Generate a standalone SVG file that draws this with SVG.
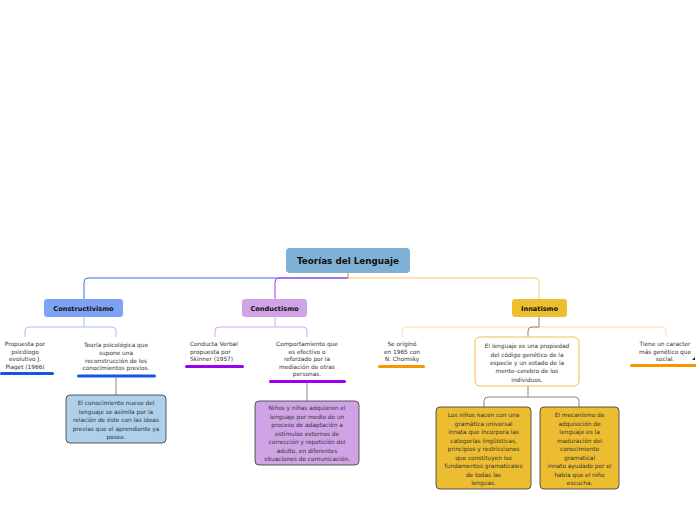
<svg xmlns="http://www.w3.org/2000/svg" width="696" height="520" viewBox="0 0 696 520">
<style>
text{font-family:"DejaVu Sans",Verdana,sans-serif;text-anchor:middle;fill:#333}
.t{font-size:5.8px}
.m{font-size:6.6px;font-weight:bold;fill:#111}
.r{font-size:8.8px;font-weight:bold;fill:#111}
.c{fill:none;stroke-width:1}
.box{stroke:#333;stroke-width:0.8}
</style>
<rect width="696" height="520" fill="#fff"/>
<g id="connectors">
<path class="c" d="M348,278 H88 Q84,278 84,282 V299" stroke="#3d6ff0"/>
<path class="c" d="M348,278 H279 Q275,278 275,282 V299" stroke="#9b3cf0"/>
<path class="c" d="M348,278 H535 Q539,278 539,282 V299" stroke="#fdc46a"/>
<path class="c" d="M348,273 V278" stroke="#f08a00"/>
<path class="c" d="M84,317 V327 M29,327 H112 Q116,327 116,331 V337 M29,327 Q25,327 25,331 V337" stroke="#a6bdf5"/>
<path class="c" d="M275,317 V327 M219,327 H303 Q307,327 307,331 V337 M219,327 Q215,327 215,331 V337" stroke="#d8a5f5"/>
<path class="c" d="M406,327 H662 Q666,327 666,331 V337 M406,327 Q402,327 402,331 V337" stroke="#fddba5"/>
<path class="c" d="M539,317 V327 H532 Q528,327 528,331 V337" stroke="#9a8660"/>
<path class="c" d="M116,378 V395" stroke="#888"/>
<path class="c" d="M307,383 V401" stroke="#888"/>
<path class="c" d="M528,386 V397 M488,397 H575 Q579,397 579,401 V407 M488,397 Q484,397 484,401 V407" stroke="#888"/>
</g>
<g id="root">
<rect x="286" y="248" width="124" height="25" rx="4" fill="#7fb0d5"/>
<text class="r" x="348" y="264">Teorías del Lenguaje</text>
</g>
<g id="constructivismo">
<rect x="44" y="299" width="79" height="18" rx="3" fill="#7ea3f5"/>
<text class="m" x="83.5" y="310.5">Constructivismo</text>
</g>
<g id="conductismo">
<rect x="242" y="299" width="65" height="18" rx="3" fill="#cfa3e6"/>
<text class="m" x="274.5" y="310.5">Conductismo</text>
</g>
<g id="innatismo">
<rect x="512" y="299" width="55" height="18" rx="3" fill="#ecbf30"/>
<text class="m" x="539.5" y="310.5">Innatismo</text>
</g>
<g id="piaget">
<text class="t" x="25" y="346">Propuesta por</text>
<text class="t" x="25" y="353.5">psicólogo</text>
<text class="t" x="25" y="361">evolutivo J.</text>
<text class="t" x="25" y="368.5">Piaget (1966)</text>
<rect x="0" y="372" width="54" height="3" rx="1.5" fill="#1456e0"/>
</g>
<g id="teoria">
<text class="t" x="116" y="347">Teoría psicológica que</text>
<text class="t" x="116" y="355">supone una</text>
<text class="t" x="116" y="362.5">reconstrucción de los</text>
<text class="t" x="116" y="370">conocimientos previos.</text>
<rect x="77" y="374.5" width="79" height="3" rx="1.5" fill="#1456e0"/>
</g>
<g id="conocimiento">
<rect x="66" y="395" width="100" height="48" rx="4" fill="#afd0ea" class="box"/>
<text class="t" x="116" y="405">El conocimiento nuevo del</text>
<text class="t" x="116" y="413.5">lenguaje se asimila por la</text>
<text class="t" x="116" y="422">relación de éste con las ideas</text>
<text class="t" x="116" y="430.5">previas que el aprendiente ya</text>
<text class="t" x="116" y="439">posee.</text>
</g>
<g id="skinner">
<text class="t" x="190" y="346" style="text-anchor:start">Conducta Verbal</text>
<text class="t" x="190" y="353.5" style="text-anchor:start">propuesta por</text>
<text class="t" x="190" y="361" style="text-anchor:start">Skinner (1957)</text>
<rect x="185" y="365" width="59" height="3" rx="1.5" fill="#9b00f0"/>
</g>
<g id="comportamiento">
<text class="t" x="307" y="346">Comportamiento que</text>
<text class="t" x="307" y="353.5">es efectivo o</text>
<text class="t" x="307" y="361">reforzado por la</text>
<text class="t" x="307" y="368.5">mediación de otras</text>
<text class="t" x="307" y="376">personas.</text>
<rect x="269" y="380" width="77" height="3" rx="1.5" fill="#9b00f0"/>
</g>
<g id="ninos-adaptacion">
<rect x="255" y="401" width="104" height="64" rx="4" fill="#cfa3e6" class="box"/>
<text class="t" x="307" y="410">Niños y niñas adquieren el</text>
<text class="t" x="307" y="418.5">lenguaje por medio de un</text>
<text class="t" x="307" y="427">proceso de adaptación a</text>
<text class="t" x="307" y="435.5">estímulos externos de</text>
<text class="t" x="307" y="444">corrección y repetición del</text>
<text class="t" x="307" y="452.5">adulto, en diferentes</text>
<text class="t" x="307" y="461">situaciones de comunicación.</text>
</g>
<g id="chomsky">
<text class="t" x="402" y="346">Se originó</text>
<text class="t" x="402" y="353.5">en 1965 con</text>
<text class="t" x="402" y="361">N. Chomsky</text>
<rect x="378" y="365" width="47" height="3" rx="1.5" fill="#f59800"/>
</g>
<g id="propiedad">
<rect x="475" y="337" width="104" height="49" rx="5" fill="#fff" stroke="#f8b94f" stroke-width="1"/>
<text class="t" x="527" y="348">El lenguaje es una propiedad</text>
<text class="t" x="527" y="356.5">del código genético de la</text>
<text class="t" x="527" y="365">especie y un estado de la</text>
<text class="t" x="527" y="373">mente–cerebro de los</text>
<text class="t" x="527" y="381.5">individuos.</text>
</g>
<g id="caracter">
<text class="t" x="665" y="346">Tiene un caracter</text>
<text class="t" x="665" y="353.5">más genético que</text>
<text class="t" x="665" y="361">social.</text>
<rect x="630" y="364" width="70" height="3" rx="1.5" fill="#f59800"/>
<path d="M692,360 L695,357 L695,360 Z" fill="#222"/>
</g>
<g id="gramatica">
<rect x="436" y="407" width="95" height="82" rx="4" fill="#ecbd30" class="box"/>
<text class="t" x="483.5" y="417">Los niños nacen con una</text>
<text class="t" x="483.5" y="425.5">gramática universal</text>
<text class="t" x="483.5" y="434">innata que incorpora las</text>
<text class="t" x="483.5" y="442.5">categorías lingüísticas,</text>
<text class="t" x="483.5" y="451">principios y restricciones</text>
<text class="t" x="483.5" y="459.5">que constituyen los</text>
<text class="t" x="483.5" y="468">fundamentos gramaticales</text>
<text class="t" x="483.5" y="476.5">de todas las</text>
<text class="t" x="483.5" y="485">lenguas.</text>
</g>
<g id="mecanismo">
<rect x="540" y="407" width="79" height="82" rx="4" fill="#ecbd30" class="box"/>
<text class="t" x="579.5" y="417">El mecanismo de</text>
<text class="t" x="579.5" y="425.5">adquisición de</text>
<text class="t" x="579.5" y="434">lenguaje es la</text>
<text class="t" x="579.5" y="442.5">maduración del</text>
<text class="t" x="579.5" y="451">conocimiento</text>
<text class="t" x="579.5" y="459.5">gramatical</text>
<text class="t" x="579.5" y="468">innato ayudado por el</text>
<text class="t" x="579.5" y="476.5">habla que el niño</text>
<text class="t" x="579.5" y="485">escucha.</text>
</g>
</svg>
